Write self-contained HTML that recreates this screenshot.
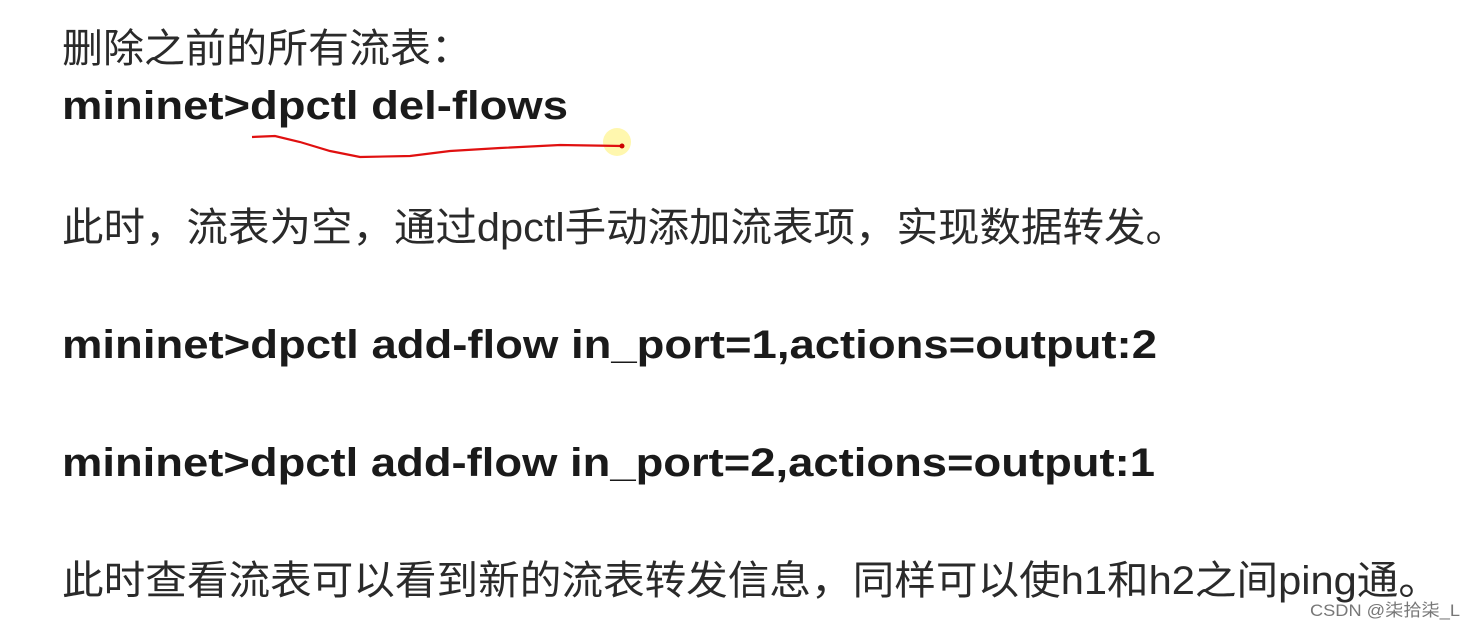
<!DOCTYPE html>
<html><head><meta charset="utf-8"><style>
html,body{margin:0;padding:0;background:#fff;}
svg{display:block;}
</style></head><body>
<svg width="1476" height="629" xmlns="http://www.w3.org/2000/svg">
<rect width="1476" height="629" fill="#fff"/>
<g font-family="'Liberation Sans','Noto Sans CJK SC',sans-serif" fill="#1a1a1a">
<text x="62" y="62" font-size="40" textLength="410" lengthAdjust="spacingAndGlyphs" fill="#2a2a2a">删除之前的所有流表：</text>
<text x="62" y="119" font-size="40" font-weight="bold" textLength="506" lengthAdjust="spacingAndGlyphs">mininet&gt;dpctl del-flows</text>
<text x="62" y="241" font-size="40" textLength="1125" lengthAdjust="spacingAndGlyphs" fill="#2a2a2a">此时，流表为空，通过dpctl手动添加流表项，实现数据转发。</text>
<text x="62" y="358" font-size="40" font-weight="bold" textLength="1095" lengthAdjust="spacingAndGlyphs">mininet&gt;dpctl add-flow in_port=1,actions=output:2</text>
<text x="62" y="476" font-size="40" font-weight="bold" textLength="1093" lengthAdjust="spacingAndGlyphs">mininet&gt;dpctl add-flow in_port=2,actions=output:1</text>
<text x="62" y="594" font-size="40" textLength="1378" lengthAdjust="spacingAndGlyphs" fill="#2a2a2a">此时查看流表可以看到新的流表转发信息，同样可以使h1和h2之间ping通。</text>
<text x="1310" y="616" font-size="17" fill="#777" textLength="150" lengthAdjust="spacingAndGlyphs">CSDN @柒拾柒_L</text>
</g>
<circle cx="617" cy="142" r="14" fill="#fff59a" opacity="0.8"/>
<path d="M252 137 L275 136 L300 142 L330 151 L360 157 L410 156 L450 151 L500 148 L560 145 L622 146" fill="none" stroke="#e01010" stroke-width="2.2"/>
<circle cx="622" cy="146" r="2.5" fill="#c00"/>
</svg>
</body></html>
